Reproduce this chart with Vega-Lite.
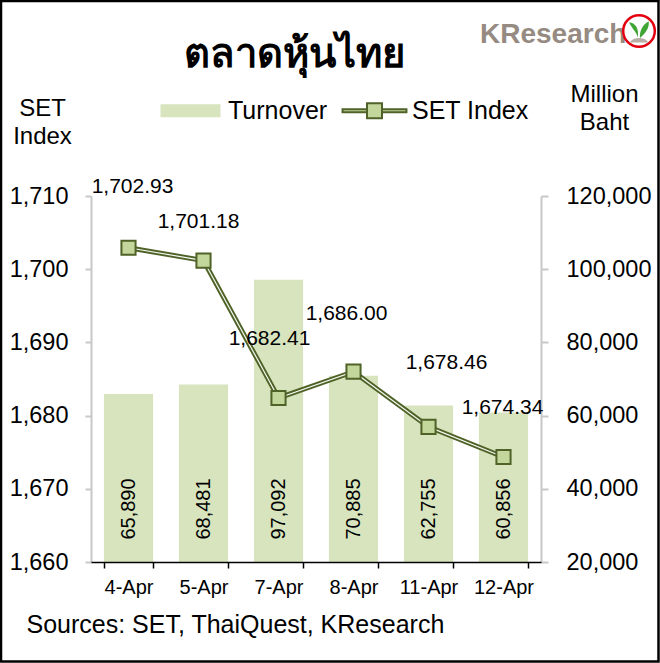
{
  "$schema": "https://vega.github.io/schema/vega-lite/v6.json",
  "width": 450,
  "height": 366,
  "autosize": {"type": "none"},
  "padding": {"left": 91, "top": 196, "right": 119, "bottom": 101},
  "background": "white",
  "title": {
    "text": "ตลาดหุ้นไทย",
    "fontSize": 40,
    "fontWeight": "bold",
    "font": "Noto Sans, Liberation Sans",
    "color": "black",
    "anchor": "middle",
    "frame": "group",
    "baseline": "alphabetic",
    "dx": -22,
    "offset": -107
  },
  "config": {
    "view": {"stroke": null},
    "font": "Liberation Sans"
  },
  "datasets": {
    "market": [
      {"date": "4-Apr", "set": 1702.93, "turnover": 65890},
      {"date": "5-Apr", "set": 1701.18, "turnover": 68481},
      {"date": "7-Apr", "set": 1682.41, "turnover": 97092},
      {"date": "8-Apr", "set": 1686.00, "turnover": 70885},
      {"date": "11-Apr", "set": 1678.46, "turnover": 62755},
      {"date": "12-Apr", "set": 1674.34, "turnover": 60856}
    ]
  },
  "data": {"name": "market"},
  "encoding": {
    "x": {
      "field": "date",
      "type": "nominal",
      "sort": null,
      "scale": {"paddingInner": 0.345, "paddingOuter": 0.1725},
      "axis": {
        "labelAngle": 0,
        "labelFontSize": 20,
        "labelColor": "black",
        "labelPadding": 9,
        "domainColor": "black",
        "domainWidth": 1.5,
        "tickColor": "black",
        "tickWidth": 1.5,
        "tickSize": 6,
        "tickBand": "extent",
        "zindex": 2,
        "title": "Sources: SET, ThaiQuest, KResearch",
        "titleFontSize": 25,
        "titleFontWeight": "normal",
        "titleColor": "black",
        "titleX": -65,
        "titleY": 70,
        "titleAlign": "left",
        "titleBaseline": "alphabetic"
      }
    }
  },
  "layer": [
    {
      "encoding": {
        "y": {
          "field": "turnover",
          "type": "quantitative",
          "scale": {"domain": [20000, 120000], "zero": false, "nice": false},
          "axis": {
            "orient": "right",
            "values": [20000, 40000, 60000, 80000, 100000, 120000],
            "format": ",d",
            "grid": false,
            "labelFontSize": 23.5,
            "labelColor": "black",
            "labelPadding": 18,
            "tickSize": 7,
            "tickWidth": 2,
            "tickColor": "#c8c8c8",
            "domainColor": "#c8c8c8",
            "domainWidth": 2,
            "title": ["Million", "Baht"],
            "titleAngle": 0,
            "titleX": 63,
            "titleY": -95,
            "titleAlign": "center",
            "titleBaseline": "alphabetic",
            "titleFontSize": 24,
            "titleFontWeight": "normal",
            "titleColor": "black",
            "titleLineHeight": 28
          }
        }
      },
      "layer": [
        {
          "mark": {"type": "bar"},
          "encoding": {
            "y2": {"datum": 20000},
            "fill": {
              "datum": "Turnover",
              "scale": {"domain": ["Turnover", "SET Index"], "range": ["#d7e4bd", "#c3d69b"]},
              "legend": {
                "title": null,
                "orient": "none",
                "legendX": 87,
                "legendY": -98,
                "direction": "horizontal",
                "padding": 0,
                "labelFontSize": 25,
                "labelColor": "black",
                "labelOffset": 25,
                "columnPadding": 10,
                "symbolSize": 900,
                "encode": {
                  "symbols": {
                    "update": {
                      "shape": {"signal": "datum.value === 'Turnover' ? 'M-2,-0.43H2V0.43H-2Z' : 'M-2.13,-0.1H-0.5V0.1H-2.13Z M0.5,-0.1H2.13V0.1H0.5Z M-0.5,-0.5H0.5V0.5H-0.5Z'"},
                      "size": {"value": 900},
                      "fill": {"signal": "datum.value === 'Turnover' ? '#d7e4bd' : '#c3d69b'"},
                      "stroke": {"signal": "datum.value === 'Turnover' ? '#d7e4bd' : '#4f6228'"},
                      "strokeWidth": {"signal": "datum.value === 'Turnover' ? 0 : 2"},
                      "opacity": {"value": 1}
                    }
                  }
                }
              }
            }
          }
        },
        {
          "mark": {"type": "text", "angle": 270, "align": "center", "baseline": "middle", "dx": 53, "fontSize": 20, "color": "black"},
          "encoding": {
            "y": {"datum": 20000},
            "text": {"field": "turnover", "type": "quantitative", "format": ","}
          }
        }
      ]
    },
    {
      "encoding": {
        "y": {
          "field": "set",
          "type": "quantitative",
          "scale": {"domain": [1660, 1710], "zero": false, "nice": false},
          "axis": {
            "orient": "left",
            "values": [1660, 1670, 1680, 1690, 1700, 1710],
            "format": ",d",
            "grid": false,
            "labelFontSize": 23.5,
            "labelColor": "black",
            "labelPadding": 17,
            "tickSize": 6,
            "tickWidth": 2,
            "tickColor": "#c8c8c8",
            "domainColor": "#c8c8c8",
            "domainWidth": 2,
            "title": ["SET", "Index"],
            "titleAngle": 0,
            "titleX": -49,
            "titleY": -81,
            "titleAlign": "center",
            "titleBaseline": "alphabetic",
            "titleFontSize": 24,
            "titleFontWeight": "normal",
            "titleColor": "black",
            "titleLineHeight": 28
          }
        }
      },
      "layer": [
        {"mark": {"type": "line", "color": "#4f6228", "strokeWidth": 5}},
        {"mark": {"type": "line", "color": "#f4f7ee", "strokeWidth": 1.2}},
        {
          "mark": {"type": "point", "shape": "square", "filled": true, "size": 200, "stroke": "#4f6228", "strokeWidth": 2, "opacity": 1},
          "encoding": {
            "fill": {"datum": "SET Index"}
          }
        },
        {
          "mark": {
            "type": "text",
            "fontSize": 21,
            "color": "black",
            "baseline": "middle",
            "align": "center",
            "dx": {"expr": "[4, -5, -9, -7, 18, -1][indexof(['4-Apr', '5-Apr', '7-Apr', '8-Apr', '11-Apr', '12-Apr'], datum.date)]"},
            "dy": {"expr": "[-61, -39, -59, -58, -64, -49][indexof(['4-Apr', '5-Apr', '7-Apr', '8-Apr', '11-Apr', '12-Apr'], datum.date)]"}
          },
          "encoding": {
            "text": {"field": "set", "type": "quantitative", "format": ",.2f"}
          }
        }
      ]
    },
    {
      "data": {"values": [{"brand": "KResearch"}]},
      "mark": {"type": "text", "align": "left", "baseline": "alphabetic", "fontSize": 28, "fontWeight": "bold", "color": "#968b82"},
      "encoding": {
        "x": {"value": 389},
        "y": {"value": -153},
        "text": {"field": "brand"}
      }
    },
    {
      "data": {"values": [{"part": "ring"}]},
      "mark": {"type": "point", "shape": "circle", "size": 1000, "filled": true, "fill": "white", "stroke": "#e3000f", "strokeWidth": 2.5, "opacity": 1},
      "encoding": {"x": {"value": 548}, "y": {"value": -165}}
    },
    {
      "data": {"values": [{"part": "mound"}]},
      "mark": {"type": "point", "shape": "M-0.6,0.72 C-0.35,0.35 0.35,0.35 0.6,0.72 Z", "size": 1000, "filled": true, "fill": "#b8aea6", "strokeWidth": 0, "opacity": 1},
      "encoding": {"x": {"value": 548}, "y": {"value": -165}}
    },
    {
      "data": {"values": [{"part": "sprout"}]},
      "mark": {"type": "point", "shape": "M-0.08,0.45 C-0.12,0.05 -0.45,-0.1 -0.62,-0.55 C-0.25,-0.5 0.02,-0.2 -0.08,0.45 Z M0.06,0.45 C0.02,-0.1 0.3,-0.45 0.62,-0.62 C0.66,-0.1 0.35,0.15 0.06,0.45 Z", "size": 1000, "filled": true, "fill": "#3fa535", "strokeWidth": 0, "opacity": 1},
      "encoding": {"x": {"value": 548}, "y": {"value": -165}}
    },
    {
      "data": {"values": [{"part": "frame"}]},
      "mark": {"type": "rect", "fill": null, "stroke": "black", "strokeWidth": 2.5},
      "encoding": {
        "x": {"value": -90},
        "x2": {"value": 567.5},
        "y": {"value": -195},
        "y2": {"value": 465.5}
      }
    }
  ],
  "resolve": {"scale": {"y": "independent"}, "axis": {"y": "independent"}}
}
